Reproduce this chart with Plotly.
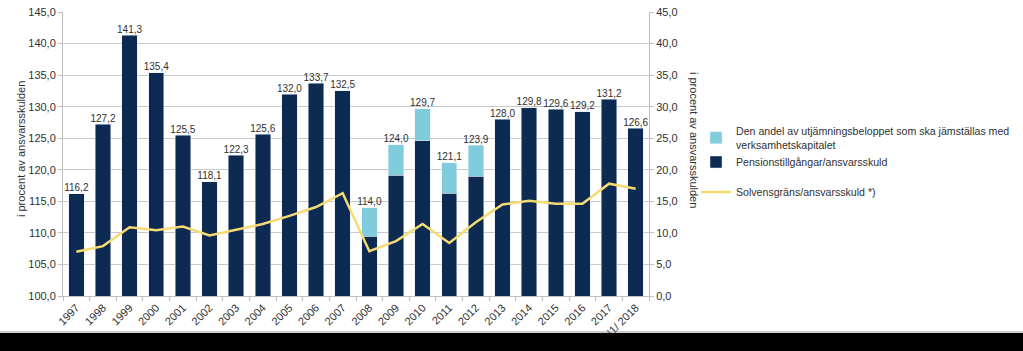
import plotly.graph_objects as go

years = ["1997", "1998", "1999", "2000", "2001", "2002", "2003", "2004", "2005", "2006", "2007",
         "2008", "2009", "2010", "2011", "2012", "2013", "2014", "2015", "2016", "2017", "H1/ 2018"]
pension = [116.2, 127.2, 141.3, 135.4, 125.5, 118.1, 122.3, 125.6, 132.0, 133.7, 132.5,
           109.5, 119.1, 124.6, 116.3, 119.0, 128.0, 129.8, 129.6, 129.2, 131.2, 126.6]
equalization = [None, None, None, None, None, None, None, None, None, None, None,
                4.5, 4.9, 5.1, 4.8, 4.9, None, None, None, None, None, None]
solvency = [7.0, 7.9, 10.9, 10.4, 11.0, 9.6, 10.5, 11.4, 12.7, 14.1, 16.3,
            7.1, 8.7, 11.4, 8.4, 11.7, 14.5, 15.1, 14.6, 14.6, 17.8, 17.0]

totals = [round(p + (e or 0), 1) for p, e in zip(pension, equalization)]
labels = [f"{t:.1f}".replace(".", ",") for t in totals]

NAVY = "#0C2A52"
LIGHT = "#7FCCDC"
YELLOW = "#F6DA72"
TXT = "#303030"
FONT = "Liberation Sans, Arial, sans-serif"

fig = go.Figure()
fig.add_trace(go.Bar(x=years, y=pension, marker_color=NAVY, name="Pensionstillgångar/ansvarsskuld",
                     legend="legend2"))
fig.add_trace(go.Bar(x=years, y=equalization, marker_color=LIGHT,
                     name="Den andel av utjämningsbeloppet som ska jämställas med<br>verksamhetskapitalet",
                     legend="legend"))
fig.add_trace(go.Scatter(x=years, y=totals, mode="text", text=labels, textposition="top center",
                         textfont=dict(size=10, color=TXT, family=FONT), showlegend=False,
                         hoverinfo="skip", cliponaxis=False))
fig.add_trace(go.Scatter(x=years, y=solvency, mode="lines", line=dict(color=YELLOW, width=2.5),
                         name="Solvensgräns/ansvarsskuld *)", yaxis="y2", legend="legend3"))

L, R, T, B = 63, 374, 12, 55
PW = 1023 - L - R
PH = 351 - T - B

def leg(ymid):
    return dict(x=(696 - L) / PW, y=(296 - ymid) / PH, xanchor="left", yanchor="middle",
                font=dict(size=10.6, color=TXT), bgcolor="rgba(0,0,0,0)", itemwidth=30)

fig.update_layout(
    width=1023, height=351,
    margin=dict(l=L, r=R, t=T, b=B, pad=0, autoexpand=False),
    paper_bgcolor="white", plot_bgcolor="white",
    separators=", ",
    barmode="stack", bargap=0.42,
    font=dict(family=FONT, size=11, color=TXT),
    xaxis=dict(type="category", range=[-0.5, len(years) - 0.5], tickangle=-45, ticks="outside",
               tickson="boundaries", ticklen=4,
               tickcolor="#BFBFBF", showline=True, linecolor="#BFBFBF", showgrid=False,
               automargin=False, tickfont=dict(size=11, color=TXT)),
    yaxis=dict(range=[100, 145], dtick=5, tickformat=".1f", ticks="outside", ticklen=4,
               tickcolor="#BFBFBF", showline=True, linecolor="#BFBFBF", gridcolor="#C8C8C8",
               zeroline=False, automargin=False, tickfont=dict(size=11, color=TXT)),
    yaxis2=dict(range=[0, 45], dtick=5, tickformat=".1f", overlaying="y", side="right",
                ticks="outside", ticklen=4, tickcolor="#BFBFBF", showline=True, linecolor="#BFBFBF",
                showgrid=False, zeroline=False, automargin=False, tickfont=dict(size=11, color=TXT)),
    legend=leg(138),
    legend2=leg(162),
    legend3=leg(192),
    showlegend=True,
)

fig.add_annotation(text="i procent av ansvarsskulden", textangle=-90, xref="paper", yref="paper",
                   x=(21 - L) / PW, y=(296 - 149) / PH, showarrow=False, xanchor="center",
                   yanchor="middle", font=dict(size=11, color=TXT))
fig.add_annotation(text="i procent av ansvarsskulden", textangle=90, xref="paper", yref="paper",
                   x=(694 - L) / PW, y=(296 - 140) / PH, showarrow=False, xanchor="center",
                   yanchor="middle", font=dict(size=11, color=TXT))

fig.add_shape(type="rect", xref="paper", yref="paper", x0=-L / PW, x1=(1023 - L) / PW,
              y0=-(351 - 296) / PH - 0.01, y1=-(333 - 296) / PH, fillcolor="black",
              line=dict(width=0), layer="above")
fig.add_shape(type="line", xref="paper", yref="paper", x0=-L / PW, x1=(1023 - L) / PW,
              y0=-(332 - 296) / PH, y1=-(332 - 296) / PH, line=dict(color="#9A9A9A", width=1),
              layer="above")

fig.write_html("out.html")
